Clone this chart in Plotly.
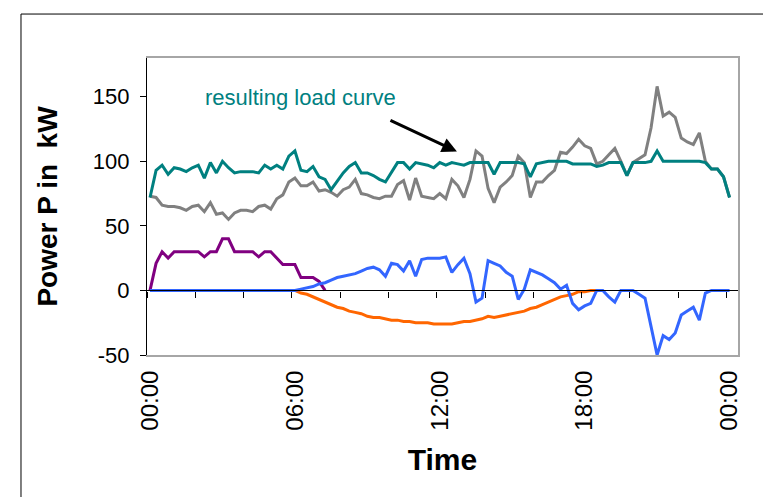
import plotly.graph_objects as go

# 15-minute resolution, 00:00 .. 24:00 (97 samples), time in hours
hours = [i / 4 for i in range(97)]

resulting_load = [72, 93, 97, 90, 95, 94, 92, 95, 97, 87, 99, 91, 100, 95, 91, 92,
                  92, 92, 91, 97, 94, 97, 94, 104, 108, 93, 92, 96, 88, 86, 78, 85,
                  91, 96, 99, 91, 91, 89, 86, 84, 92, 99, 99, 94, 99, 98, 97, 95,
                  99, 97, 99, 98, 97, 99, 99, 99, 99, 90, 99, 99, 99, 99, 98, 88,
                  98, 99, 100, 100, 100, 100, 98, 98, 98, 98, 96, 97, 99, 99, 99, 89,
                  99, 99, 99, 100, 108, 100, 100, 100, 100, 100, 100, 100, 99, 94, 94, 88,
                  72]

original_load = [73, 72, 66, 65, 65, 64, 62, 65, 66, 61, 68, 59, 60, 55, 60, 62,
                 62, 61, 65, 66, 63, 71, 74, 84, 87, 81, 81, 84, 77, 78, 76, 73,
                 78, 80, 86, 75, 74, 72, 71, 73, 73, 82, 85, 70, 87, 73, 72, 71,
                 75, 71, 86, 81, 72, 86, 108, 104, 79, 68, 80, 84, 89, 104, 99, 72,
                 84, 84, 89, 93, 107, 106, 111, 117, 112, 110, 98, 100, 105, 110, 100, 89,
                 99, 102, 105, 126, 158, 135, 138, 134, 118, 115, 113, 122, 100, 94, 94, 88,
                 72]

night_load = [0, 21, 30, 25, 30, 30, 30, 30, 30, 26, 30, 30, 40, 40, 30, 30,
              30, 30, 26, 30, 30, 25, 20, 20, 20, 10, 10, 10, 7, 0] + [None] * 67

pv_power = [None] * 24 + [0, -2, -3, -5, -7, -9, -11, -13, -14, -16, -17, -18, -20, -21, -21, -22,
                          -23, -23, -24, -24, -25, -25, -25, -26, -26, -26, -26, -25, -24, -24, -23, -22,
                          -20, -21, -20, -19, -18, -17, -16, -14, -13, -11, -9, -7, -5, -4, -3, -1,
                          -1, 0, 0] + [None] * 22

storage_power = [0] * 25 + [1, 2, 3, 5, 6, 8, 10, 11, 12, 13, 15, 17, 18, 16, 11,
                            21, 20, 15, 23, 11, 24, 25, 25, 25, 26, 14, 20, 25, 13, -9, -6,
                            23, 21, 19, 14, 11, -7, 1, 16, 14, 12, 9, 6, 1, 4, -10, -15,
                            -12, -10, 0, 0, -5, -9, 0, 0, 0, -3, -6, -28, -50, -35, -38, -33,
                            -19, -16, -13, -23, -2, 0, 0, 0, 0][:72]

tick_label_hours = [0, 6, 12, 18, 24]
tick_labels = ["00:00", "06:00", "12:00", "18:00", "00:00"]
y_ticks = [-50, 0, 50, 100, 150]
y_tick_labels = ["-50", "0", "50", "100", "150"]

FONT = "Liberation Sans, Arial, sans-serif"
X_RANGE = [-0.125, 24.35]
Y_RANGE = [-50, 180]

fig = go.Figure()
series = [
    (original_load, "#808080"),
    (night_load, "#800080"),
    (pv_power, "#FF6600"),
    (storage_power, "#3366FF"),
    (resulting_load, "#008080"),
]
for vals, col in series:
    fig.add_trace(go.Scatter(x=hours, y=vals, mode="lines",
                             line=dict(color=col, width=3),
                             connectgaps=False, showlegend=False, hoverinfo="skip"))

# 2-hour category boundaries for the tick marks on the zero line
minor_ticks = [2 * k - 0.125 for k in range(13)]

fig.update_layout(
    width=763, height=489,
    margin=dict(l=139, r=33, t=50, b=142, pad=0),
    paper_bgcolor="white", plot_bgcolor="white",
    font=dict(family=FONT, color="black"),
    xaxis=dict(
        range=X_RANGE, showgrid=False, zeroline=False,
        tickmode="array", tickvals=tick_label_hours, ticktext=tick_labels,
        tickangle=-90, ticks="", ticklabelstandoff=4,
        tickfont=dict(size=24, family=FONT),
        showline=True, linecolor="#A6A6A6", linewidth=2, mirror=True,
        title=dict(text="<b>Time</b>", font=dict(size=30, family=FONT), standoff=19),
    ),
    xaxis2=dict(
        range=X_RANGE, overlaying="x", anchor="free",
        position=(0 - Y_RANGE[0]) / (Y_RANGE[1] - Y_RANGE[0]),
        side="bottom", showgrid=False, zeroline=False,
        showline=True, linecolor="black", linewidth=1.3,
        tickmode="array", tickvals=minor_ticks, ticks="outside",
        ticklen=6, tickwidth=1.3, tickcolor="black", showticklabels=False,
    ),
    yaxis=dict(
        range=Y_RANGE, showgrid=False, zeroline=False,
        tickmode="array", tickvals=y_ticks, ticktext=y_tick_labels, ticks="outside",
        ticklen=6, tickwidth=1.3, tickcolor="black", ticklabelstandoff=6,
        tickfont=dict(size=22, family=FONT),
        showline=True, linecolor="black", linewidth=1.3,
        title=dict(text="<b>Power P in\u00a0 kW</b>", font=dict(size=28, family=FONT), standoff=26),
    ),
    yaxis2=dict(
        range=Y_RANGE, overlaying="y", side="right", showgrid=False,
        zeroline=False, showline=True, linecolor="#A6A6A6", linewidth=2,
        showticklabels=False, ticks="",
    ),
)

# dummy invisible trace so that the overlay axes render
fig.add_trace(go.Scatter(x=[None], y=[None], xaxis="x2", yaxis="y2",
                         showlegend=False, hoverinfo="skip"))

fig.add_annotation(x=6.25, y=149.3, xref="x", yref="y", text="resulting load curve",
                   showarrow=False, font=dict(size=22, color="#008080", family=FONT))
fig.add_annotation(x=12.71, y=107.5, xref="x", yref="y", text="",
                   showarrow=True, arrowhead=2, arrowsize=1, arrowwidth=3,
                   arrowcolor="black", ax=-68, ay=-32)

# outer frame (left and top edges of the figure box)
fig.add_shape(type="line", xref="paper", yref="paper",
              x0=-0.2132, x1=-0.2132, y0=1.148, y1=-0.5, line=dict(color="black", width=1))
fig.add_shape(type="line", xref="paper", yref="paper",
              x0=-0.2132, x1=1.1, y0=1.148, y1=1.148, line=dict(color="black", width=1))

fig.write_html("out.html")
